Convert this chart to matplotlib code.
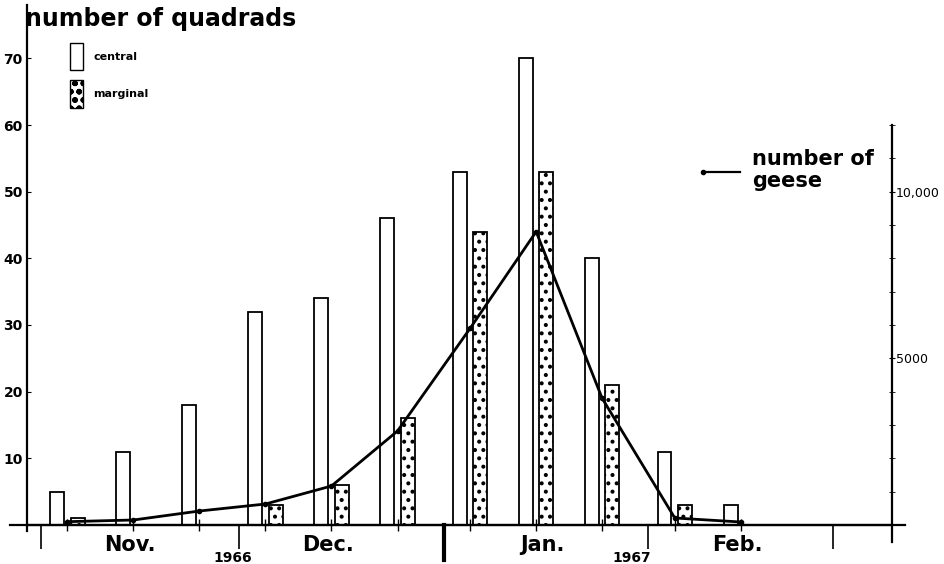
import numpy as np
import matplotlib.pyplot as plt
from matplotlib.patches import Patch

plt.rcParams['hatch.linewidth'] = 1.7

# census dates, in days after 1 Nov 1966
census_days = [4, 14, 24, 34, 44, 54, 65, 75, 85, 96, 106]
central = [5, 11, 18, 32, 34, 46, 53, 70, 40, 11, 3]
marginal = [1, 0, 0, 3, 6, 16, 44, 53, 21, 3, 0]
geese = [100, 150, 420, 630, 1170, 2820, 5900, 8800, 3800, 210, 90]

month_starts = [0, 30, 92, 120]
year_break = 61
month_names = ["Nov.", "Dec.", "Jan.", "Feb."]
month_label_days = [13.5, 43.5, 76, 105.5]
years = ["1966", "1967"]
year_label_days = [29, 89.5]
left_ticks = [10, 20, 30, 40, 50, 60, 70]
right_ticks = [5000, 10000]
right_labels = ["5000", "10,000"]
right_minor = np.arange(1000, 12001, 1000)

fig = plt.figure(figsize=(9.44, 5.64), dpi=100)
ax = fig.add_axes([27 / 944, 39 / 564, 865 / 944, 520 / 564])
ax2 = ax.twinx()

x = np.array(census_days, dtype=float)
off, w = 1.55, 2.1
ax.bar(x - off, central, width=w, color="white", edgecolor="black", linewidth=1.3, zorder=2)
ax.bar(x + off, marginal, width=w, color="white", edgecolor="black", linewidth=1.3,
       hatch="..", zorder=2)

ax2.plot(census_days, geese, color="black", lw=2, marker="o", ms=3, zorder=3)

ax.set_xlim(-2.12, 128.9)
ax.set_ylim(0, 78)
ax2.set_ylim(0, 15600)

for s in ["top", "right"]:
    ax.spines[s].set_visible(False)
for s in ["top", "left", "bottom"]:
    ax2.spines[s].set_visible(False)
ax.spines["left"].set_linewidth(1.6)
ax.spines["bottom"].set_linewidth(1.6)
ax2.spines["right"].set_linewidth(1.6)
ax2.spines["right"].set_bounds(0, 12000)

# left axis
ax.set_yticks(left_ticks)
ax.set_yticklabels([str(v) for v in left_ticks], fontweight="bold", fontsize=10)
ax.tick_params(axis="y", direction="in", length=3, pad=3)

# x axis ticks: month boundaries long, census dates short
ax.set_xticks(month_starts)
ax.set_xticklabels([""] * len(month_starts))
ax.tick_params(axis="x", direction="out", length=17, width=1.2)
ax.set_xticks(census_days, minor=True)
ax.tick_params(axis="x", which="minor", direction="inout", length=8, width=1.0)
ax.plot([year_break, year_break], [0, -0.068], color="black", lw=3,
        transform=ax.get_xaxis_transform(), clip_on=False)
# axis line running past both vertical axes
ax.plot([-0.02, 1.015], [0, 0], color="black", lw=1.6,
        transform=ax.transAxes, clip_on=False)
ax.plot([1, 1], [0, -0.033], color="black", lw=1.6,
        transform=ax.transAxes, clip_on=False)
ax.plot([0, 0], [0, -0.012], color="black", lw=1.6,
        transform=ax.transAxes, clip_on=False)

for d, name in zip(month_label_days, month_names):
    ax.text(d, -0.038, name, transform=ax.get_xaxis_transform(), ha="center",
            va="center", fontsize=15, fontweight="bold")
for d, yr in zip(year_label_days, years):
    ax.text(d, -0.063, yr, transform=ax.get_xaxis_transform(), ha="center",
            va="center", fontsize=10, fontweight="bold")

# right axis
ax2.set_yticks(right_ticks)
ax2.set_yticklabels(right_labels, fontsize=9)
ax2.set_yticks(right_minor, minor=True)
ax2.tick_params(axis="y", which="both", direction="inout", length=4, pad=1)

fig.text(25 / 944, 1 - 19 / 564, "number of quadrads", fontsize=17,
         fontweight="bold", va="center", ha="left")

ax.legend(handles=[Patch(facecolor="white", edgecolor="black", label="central"),
                   Patch(facecolor="white", edgecolor="black", hatch="oo", label="marginal")],
          loc="upper left", bbox_to_anchor=(70 / 944, 1 - 43 / 564),
          bbox_transform=fig.transFigure, frameon=False, borderpad=0,
          borderaxespad=0, handlelength=1.2, handleheight=3.4,
          handletextpad=0.9, labelspacing=0.9,
          prop={"weight": "bold", "size": 8})

fig.lines.append(plt.Line2D([703 / 944, 740 / 944], [1 - 172 / 564, 1 - 172 / 564],
                            color="black", lw=1.6, marker="o", ms=3, markevery=[0],
                            transform=fig.transFigure))
fig.text(752 / 944, 1 - 170 / 564, "number of\ngeese", fontsize=15,
         fontweight="bold", va="center", ha="left", linespacing=1.1)

fig.savefig("out.png", dpi=100)
